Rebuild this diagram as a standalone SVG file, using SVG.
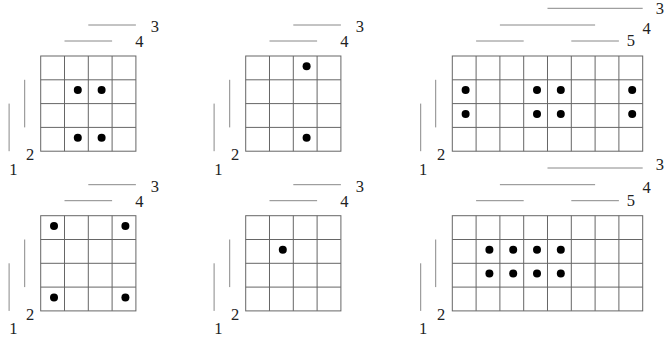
<svg xmlns="http://www.w3.org/2000/svg" xmlns:xlink="http://www.w3.org/1999/xlink" width="665" height="338" viewBox="0 0 665 338">
<style>
.grid{fill:none;stroke:#666;stroke-width:1}
.deco{fill:none;stroke:#888;stroke-width:1}
text{fill:#222;text-anchor:middle}
.dot{fill:#000}
</style>
<defs>
<g id="g4">
<rect class="grid" x="0" y="0" width="95.2" height="95.2"/>
<path class="grid" d="M23.8,0V95.2M47.6,0V95.2M71.4,0V95.2M0,23.8H95.2M0,47.6H95.2M0,71.4H95.2"/>
</g>
<g id="g8">
<rect class="grid" x="0" y="0" width="190.4" height="95.2"/>
<path class="grid" d="M23.8,0V95.2M47.6,0V95.2M71.4,0V95.2M95.2,0V95.2M119,0V95.2M142.8,0V95.2M166.6,0V95.2M0,23.8H190.4M0,47.6H190.4M0,71.4H190.4"/>
</g>
<path id="d4" class="deco" d="M47.6,-31H95.2M23.8,-15H71.4M-16,23.8V71.4M-31.6,47.6V95.2"/>
<path id="d8" class="deco" d="M95.2,-47.7H190.4M47.6,-31H142.8M23.8,-15H71.4M119,-15H166.6M-16.6,23.8V71.4M-31.6,47.6V95.2"/>
<circle id="dot" class="dot" r="4"/>
</defs>

<g font-family="Liberation Serif, DejaVu Serif, serif" font-size="16.5">
<g id="panelA" transform="translate(40.7,56)">
<use xlink:href="#g4"/>
<use xlink:href="#d4"/>
<text x="114.3" y="-24">3</text><text x="98.8" y="-9">4</text><text x="-10.7" y="104">2</text><text x="-27.4" y="118.5">1</text>
<use xlink:href="#dot" x="37.1" y="34.1"/><use xlink:href="#dot" x="60.9" y="34.1"/>
<use xlink:href="#dot" x="37.1" y="81.7"/><use xlink:href="#dot" x="60.9" y="81.7"/>
</g>
<g id="panelB" transform="translate(245.7,56)">
<use xlink:href="#g4"/>
<use xlink:href="#d4"/>
<text x="114.3" y="-24">3</text><text x="98.8" y="-9">4</text><text x="-10.7" y="104">2</text><text x="-27.4" y="118.5">1</text>
<use xlink:href="#dot" x="60.9" y="10.3"/><use xlink:href="#dot" x="60.9" y="81.7"/>
</g>
<g id="panelC" transform="translate(452.3,56)">
<use xlink:href="#g8"/>
<use xlink:href="#d8"/>
<text x="207.5" y="-42.5">3</text><text x="194.4" y="-22.5">4</text><text x="178.7" y="-10">5</text><text x="-11.3" y="104">2</text><text x="-29.3" y="118.5">1</text>
<use xlink:href="#dot" x="13.3" y="34.1"/><use xlink:href="#dot" x="84.7" y="34.1"/><use xlink:href="#dot" x="108.5" y="34.1"/><use xlink:href="#dot" x="179.9" y="34.1"/>
<use xlink:href="#dot" x="13.3" y="57.9"/><use xlink:href="#dot" x="84.7" y="57.9"/><use xlink:href="#dot" x="108.5" y="57.9"/><use xlink:href="#dot" x="179.9" y="57.9"/>
</g>
<g id="panelD" transform="translate(40.7,215.7)">
<use xlink:href="#g4"/>
<use xlink:href="#d4"/>
<text x="114.3" y="-24">3</text><text x="98.8" y="-9">4</text><text x="-10.7" y="104">2</text><text x="-27.4" y="118.5">1</text>
<use xlink:href="#dot" x="13.3" y="10.3"/><use xlink:href="#dot" x="84.7" y="10.3"/>
<use xlink:href="#dot" x="13.3" y="81.7"/><use xlink:href="#dot" x="84.7" y="81.7"/>
</g>
<g id="panelE" transform="translate(245.7,215.7)">
<use xlink:href="#g4"/>
<use xlink:href="#d4"/>
<text x="114.3" y="-24">3</text><text x="98.8" y="-9">4</text><text x="-10.7" y="104">2</text><text x="-27.4" y="118.5">1</text>
<use xlink:href="#dot" x="37.1" y="34.1"/>
</g>
<g id="panelF" transform="translate(452.3,215.7)">
<use xlink:href="#g8"/>
<use xlink:href="#d8"/>
<text x="207.5" y="-45.5">3</text><text x="194.4" y="-22.5">4</text><text x="178.7" y="-10">5</text><text x="-11.3" y="104">2</text><text x="-29.3" y="118.5">1</text>
<use xlink:href="#dot" x="37.1" y="34.1"/><use xlink:href="#dot" x="60.9" y="34.1"/><use xlink:href="#dot" x="84.7" y="34.1"/><use xlink:href="#dot" x="108.5" y="34.1"/>
<use xlink:href="#dot" x="37.1" y="57.9"/><use xlink:href="#dot" x="60.9" y="57.9"/><use xlink:href="#dot" x="84.7" y="57.9"/><use xlink:href="#dot" x="108.5" y="57.9"/>
</g>
</g>
</svg>
